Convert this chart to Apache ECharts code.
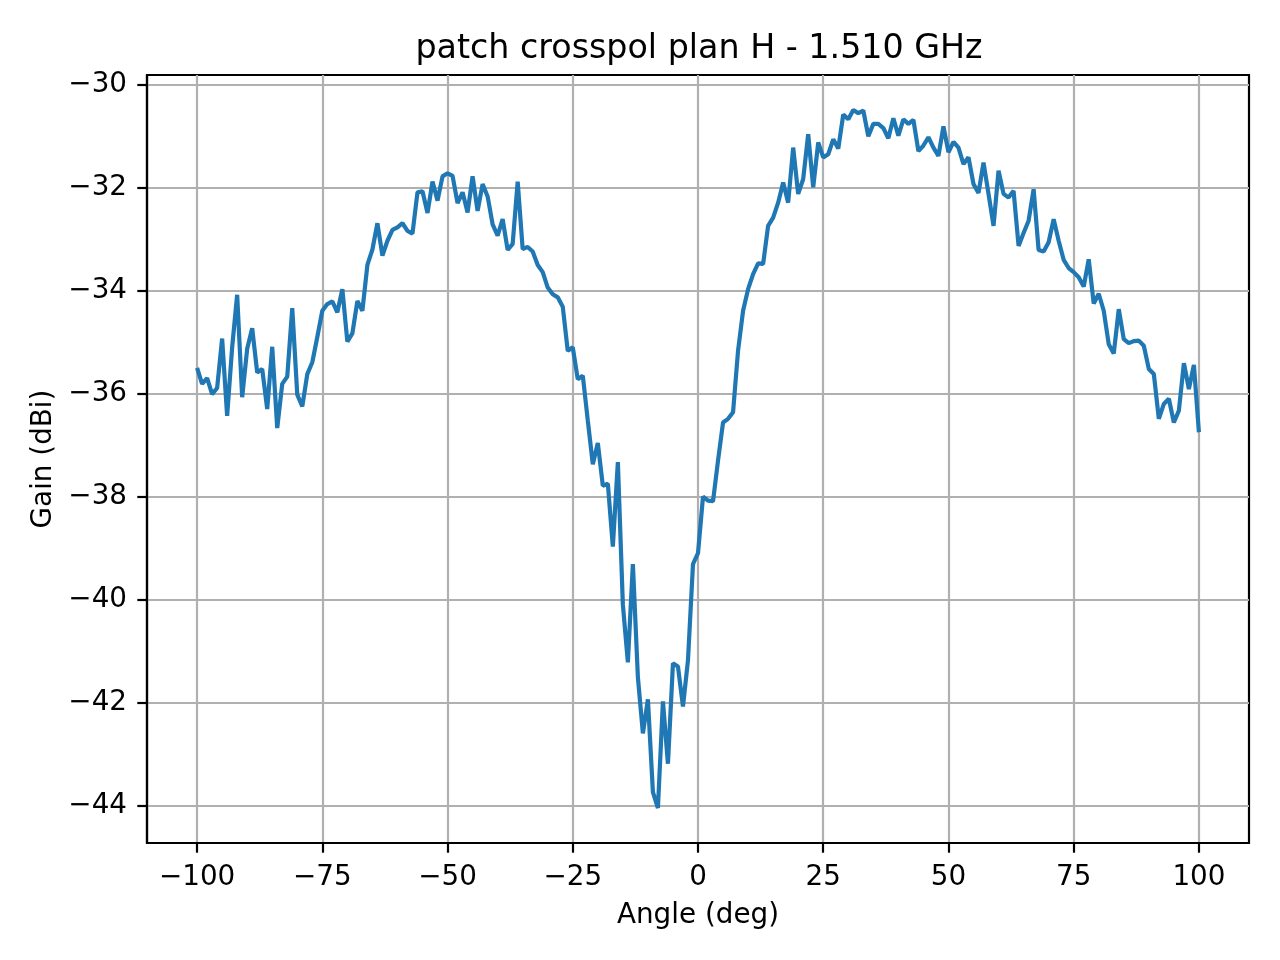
<!DOCTYPE html>
<html>
<head>
<meta charset="utf-8">
<script src="https://cdn.jsdelivr.net/npm/echarts@6/dist/echarts.min.js"></script>
<style>
  html, body { margin: 0; padding: 0; background: #fff; }
  #chart { width: 1280px; height: 960px; }
</style>
</head>
<body>
<div id="chart"></div>
<script>
// angle of each measurement (deg)
var angles = [
  -100, -99, -98, -97, -96, -95, -94, -93, -92, -91, -90, -89, -88, -87, -86, -85, -84, -83, -82, -81,
  -80, -79, -78, -77, -76, -75, -74, -73, -72, -71, -70, -69, -68, -67, -66, -65, -64, -63, -62, -61,
  -60, -59, -58, -57, -56, -55, -54, -53, -52, -51, -50, -49, -48, -47, -46, -45, -44, -43, -42, -41,
  -40, -39, -38, -37, -36, -35, -34, -33, -32, -31, -30, -29, -28, -27, -26, -25, -24, -23, -22, -21,
  -20, -19, -18, -17, -16, -15, -14, -13, -12, -11, -10, -9, -8, -7, -6, -5, -4, -3, -2, -1,
  0, 1, 2, 3, 4, 5, 6, 7, 8, 9, 10, 11, 12, 13, 14, 15, 16, 17, 18, 19,
  20, 21, 22, 23, 24, 25, 26, 27, 28, 29, 30, 31, 32, 33, 34, 35, 36, 37, 38, 39,
  40, 41, 42, 43, 44, 45, 46, 47, 48, 49, 50, 51, 52, 53, 54, 55, 56, 57, 58, 59,
  60, 61, 62, 63, 64, 65, 66, 67, 68, 69, 70, 71, 72, 73, 74, 75, 76, 77, 78, 79,
  80, 81, 82, 83, 84, 85, 86, 87, 88, 89, 90, 91, 92, 93, 94, 95, 96, 97, 98, 99,
  100
];

// gain (dBi)
var gain = [
  -35.50, -35.81, -35.70, -36.01, -35.89, -34.93, -36.43, -35.10, -34.08, -36.07,
  -35.13, -34.73, -35.59, -35.52, -36.30, -35.09, -36.67, -35.81, -35.67, -34.34,
  -36.02, -36.25, -35.62, -35.39, -34.90, -34.39, -34.26, -34.21, -34.42, -33.97,
  -34.99, -34.83, -34.20, -34.39, -33.50, -33.20, -32.69, -33.32, -33.03, -32.82,
  -32.77, -32.69, -32.84, -32.89, -32.09, -32.07, -32.49, -31.88, -32.25, -31.78,
  -31.72, -31.77, -32.30, -32.09, -32.48, -31.78, -32.45, -31.93, -32.17, -32.71,
  -32.93, -32.61, -33.21, -33.09, -31.88, -33.19, -33.15, -33.24, -33.50, -33.64,
  -33.94, -34.07, -34.13, -34.31, -35.17, -35.10, -35.72, -35.65, -36.52, -37.37,
  -36.96, -37.79, -37.75, -38.97, -37.33, -40.10, -41.22, -39.31, -41.51, -42.60,
  -41.94, -43.74, -44.05, -41.98, -43.19, -41.24, -41.30, -42.08, -41.18, -39.31,
  -39.10, -38.00, -38.08, -38.09, -37.30, -36.56, -36.49, -36.36, -35.16, -34.39,
  -33.97, -33.68, -33.47, -33.48, -32.74, -32.58, -32.29, -31.90, -32.29, -31.22,
  -32.12, -31.83, -30.96, -31.99, -31.12, -31.41, -31.35, -31.06, -31.24, -30.58,
  -30.67, -30.49, -30.55, -30.50, -31.00, -30.76, -30.76, -30.84, -31.04, -30.65,
  -30.99, -30.67, -30.76, -30.68, -31.29, -31.18, -31.02, -31.22, -31.38, -30.81,
  -31.31, -31.11, -31.22, -31.54, -31.41, -31.93, -32.10, -31.51, -32.12, -32.74,
  -31.67, -32.12, -32.19, -32.06, -33.13, -32.88, -32.64, -32.03, -33.21, -33.24,
  -33.06, -32.61, -33.03, -33.40, -33.56, -33.64, -33.74, -33.92, -33.39, -34.25,
  -34.06, -34.39, -35.04, -35.22, -34.36, -34.94, -35.02, -34.98, -34.97, -35.07,
  -35.52, -35.62, -36.49, -36.20, -36.10, -36.56, -36.33, -35.41, -35.91, -35.44,
  -36.75
];

var xTicks = [-100, -75, -50, -25, 0, 25, 50, 75, 100];
var yTicks = [-44, -42, -40, -38, -36, -34, -32, -30];

var FONT = 'DejaVu Sans';
var minus = function (v) { return String(v).replace('-', '\u2212'); };

var points = angles.map(function (a, i) { return [a, gain[i]]; });

var chart = echarts.init(document.getElementById('chart'));

var option = {
  animation: false,
  backgroundColor: '#fff',
  title: {
    text: 'patch crosspol plan H - 1.510 GHz',
    left: 694,
    top: 28,
    textAlign: 'center',
    textStyle: { fontFamily: FONT, fontSize: 33.3, fontWeight: 'normal', color: '#000' }
  },
  grid: {
    left: 147, right: 31, top: 75, bottom: 117,
    show: true, borderColor: '#000', borderWidth: 2.2, backgroundColor: 'transparent'
  },
  xAxis: {
    type: 'value',
    min: -110, max: 110,
    name: 'Angle (deg)',
    nameLocation: 'middle',
    nameGap: 59,
    nameTextStyle: { fontFamily: FONT, fontSize: 27.8, color: '#000' },
    axisLine: { onZero: false, lineStyle: { color: '#000', width: 2.2 } },
    axisTick: { customValues: xTicks, length: 9.7, lineStyle: { color: '#000', width: 2.2 } },
    axisLabel: { customValues: xTicks, margin: 21, formatter: minus,
      fontFamily: FONT, fontSize: 27.8, color: '#000' },
    splitLine: { show: true, lineStyle: { color: '#b0b0b0', width: 2.2 } }
  },
  yAxis: {
    type: 'value',
    min: -44.73, max: -29.81,
    name: 'Gain (dBi)',
    nameLocation: 'middle',
    nameGap: 89,
    nameRotate: 90,
    nameTextStyle: { fontFamily: FONT, fontSize: 27.8, color: '#000' },
    axisLine: { onZero: false, lineStyle: { color: '#000', width: 2.2 } },
    axisTick: { customValues: yTicks, length: 9.7, lineStyle: { color: '#000', width: 2.2 } },
    axisLabel: { customValues: yTicks, margin: 20, formatter: minus,
      fontFamily: FONT, fontSize: 27.8, color: '#000' },
    splitLine: { show: true, lineStyle: { color: '#b0b0b0', width: 2.2 } }
  },
  series: [
    {
      type: 'line',
      data: points,
      showSymbol: false,
      lineStyle: { color: '#1f77b4', width: 4.2 },
      z: 3
    }
  ]
};

chart.setOption(option);
</script>
</body>
</html>
